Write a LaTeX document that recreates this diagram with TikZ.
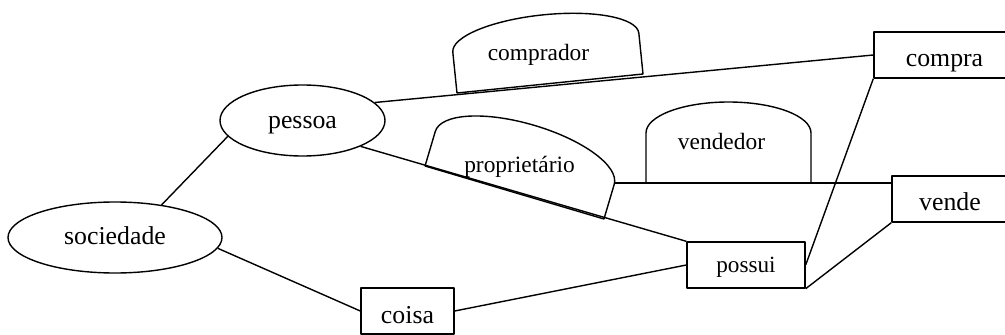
\documentclass[tikz,border=0pt]{standalone}
\usepackage{fontspec}
\setmainfont{Liberation Serif}
\usetikzlibrary{shapes.geometric}
\begin{document}
\begin{tikzpicture}[x=1pt,y=-1pt,
  line width=1.4pt, line join=round,
  ent/.style={draw, ellipse, inner sep=0pt, minimum height=71pt,
    text depth=0pt, font=\fontsize{25.8}{30}\selectfont},
  relbox/.style={draw, rectangle, inner sep=0pt, minimum height=46pt,
    text depth=0pt, font=\fontsize{25.8}{30}\selectfont},
  role/.style={inner sep=0pt, anchor=base, font=\fontsize{23.4}{28}\selectfont}]
\clip (0,0) rectangle (1005,335);

% entities
\node[ent, minimum width=165pt, text height=15.6pt] (pessoa) at (302.5,120.5) {pessoa};
\node[ent, minimum width=214pt, text height=13.6pt] (sociedade) at (115,237.5) {sociedade};

% relationships
\node[relbox, minimum width=141pt, text height=22pt] (compra) at (944.5,55) {compra};
\node[relbox, minimum width=116pt, text height=22pt] (vende) at (950,199) {vende};
\node[relbox, minimum width=118pt, text height=15.4pt, font=\fontsize{23.2}{28}\selectfont] (possui) at (746,265) {possui};
\node[relbox, minimum width=93pt, text height=24.6pt] (coisa) at (407.5,311) {coisa};

% connectors
\draw (sociedade.35) -- (pessoa.192);
\draw (sociedade.-6) -- (coisa.west);
\draw (coisa.east) -- (possui.west);
\draw (pessoa.14) -- (compra.west);
\draw (pessoa.-24) -- (possui.north west);
\draw (compra.south west) -- (possui.east);
\draw (possui.south east) -- (vende.south west);
\coordinate (propR) at (614,183);
\draw (propR) -- (propR -| vende.west);

% role shapes sitting on the connectors
\begin{scope}[shift={(550,83.5)}, rotate=5.83]
  \draw (-93.5pt,0pt) -- (-93.5pt,41pt)
    arc[start angle=180, end angle=0, x radius=93.5pt, y radius=28pt]
    -- (93.5pt,0pt) -- cycle;
\end{scope}
\begin{scope}[shift={(514.5,192.5)}, rotate=-16.5]
  \draw (-93.3pt,0pt) -- (-93.3pt,36pt)
    arc[start angle=180, end angle=0, x radius=93.3pt, y radius=34pt]
    -- (93.3pt,0pt) -- cycle;
\end{scope}
\draw (646,183) -- (646,133)
  arc[start angle=180, end angle=0, x radius=82.5pt, y radius=31pt]
  -- (811,183) -- cycle;

% role names
\node[role] (lcomprador) at (538.5,60) {comprador};
\node[role] (lproprietario) at (519.5,172) {proprietário};
\node[role] (lvendedor) at (721.5,149.3) {vendedor};
\end{tikzpicture}
\end{document}
